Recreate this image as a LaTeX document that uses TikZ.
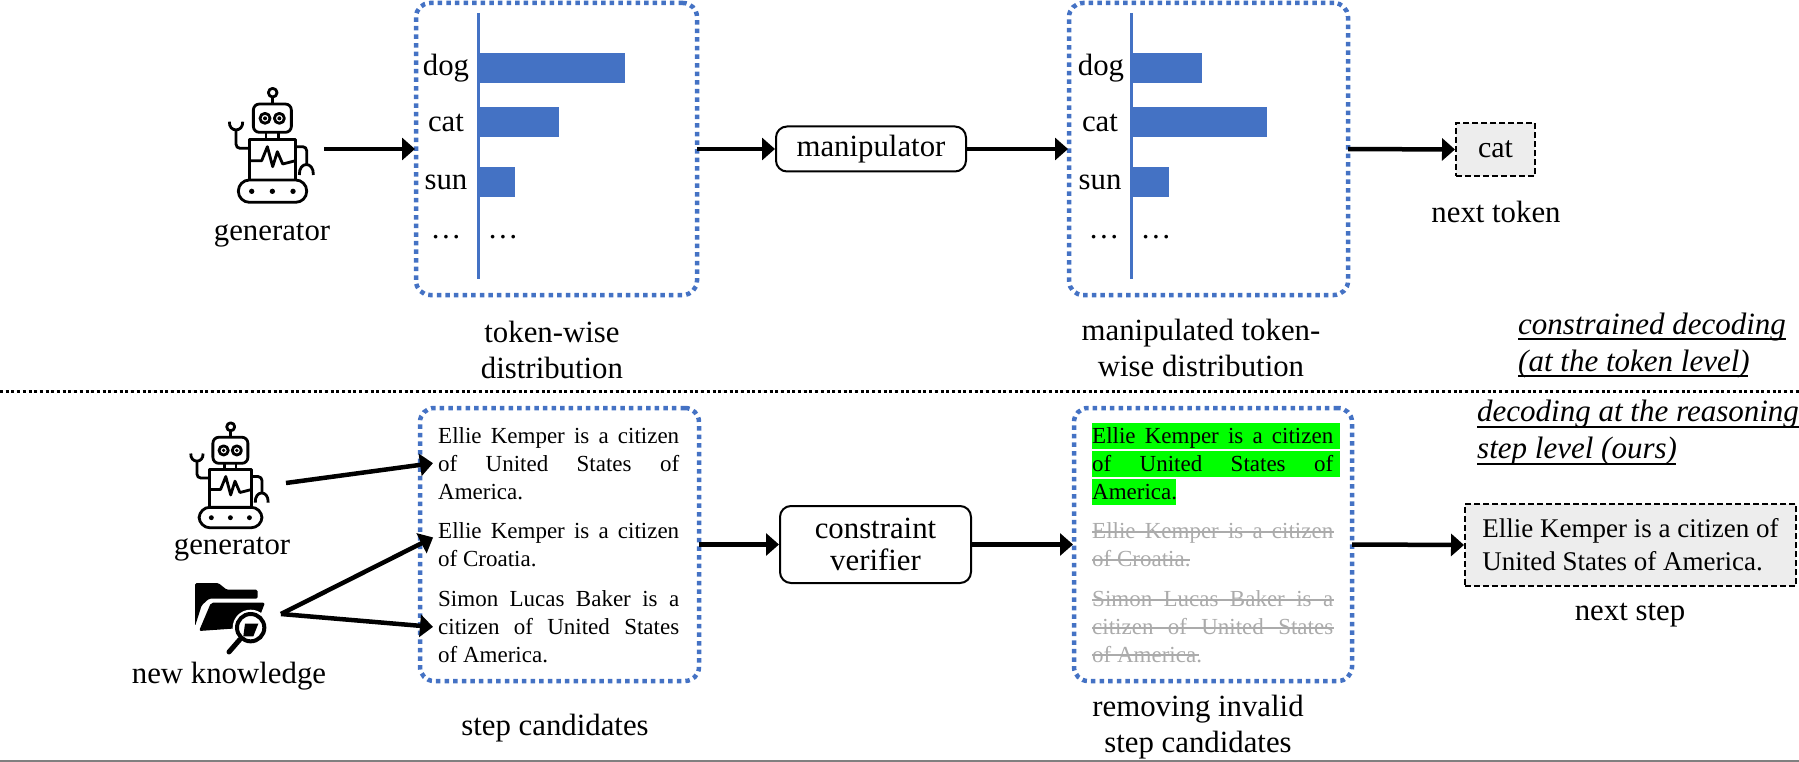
\documentclass[tikz,border=0pt]{standalone}
\usepackage{fontspec}
\setmainfont{Liberation Serif}
\usetikzlibrary{arrows.meta, positioning}
\hbadness=10000
\hfuzz=20pt
\definecolor{barblue}{HTML}{4472C4}
\definecolor{boxgray}{HTML}{EDEDED}
\definecolor{struckgray}{HTML}{ABABAB}
\tikzset{
    robot/.pic={
        \begin{scope}[shift={(-368,-255)},line width=2.8pt,line join=round]
            \draw (368,98) circle [radius=13];
            \draw (368,111) -- (368,132);
            \draw [rounded corners=6pt] (310,132) rectangle (424,217);
            \draw (345,175) circle [radius=15] (388,175) circle [radius=15];
            \fill (345,175) circle [radius=6] (388,175) circle [radius=6];
            \draw (348,217) -- (348,238) (385,217) -- (385,238);
            \draw (298,238) rectangle (437,360);
            \draw [rounded corners=4pt] (298,265) -- (258,265) -- (258,212);
            \draw (238,185) .. controls (236,218) and (280,218) .. (278,185);
            \draw [rounded corners=4pt] (437,260) -- (470,260) -- (470,312);
            \draw (448,345) .. controls (446,303) and (492,303) .. (490,345);
            \draw (298,302) -- (335,302) -- (352,260) -- (368,320) -- (382,275) -- (398,312) -- (437,302);
            \draw [rounded corners=11pt] (265,360) rectangle (470,427);
            \fill (305,394) circle [radius=8] (367,394) circle [radius=8] (429,394) circle [radius=8];
        \end{scope}
    },
    folder/.pic={
        \begin{scope}[shift={(-135,-140)}]
            \fill [rounded corners=1.5pt] (30,38) -- (100,38) -- (125,58) -- (218,58) -- (218,85) -- (72,85) -- (50,105) -- (30,168) -- cycle;
            \fill [rounded corners=2pt] (78,97) -- (240,97) -- (212,170) -- (42,182) -- cycle;
            \fill [white] (197,172) circle [radius=54];
            \draw [line width=4pt] (197,172) circle [radius=41];
            \fill (180,160) -- (220,160) -- (205,198) -- (175,198) -- cycle;
            \draw [line width=5pt,line cap=round] (165,207) -- (132,245);
        \end{scope}
    }
}
\begin{document}
\begin{tikzpicture}[x=1pt,y=-1pt]
    \tikzstyle{label} = [font=\fontsize{30.8}{36}\selectfont,align=center,inner sep=0pt]
    \tikzstyle{token} = [font=\fontsize{30.8}{36}\selectfont,anchor=base,inner sep=0pt]
    \tikzstyle{dotbox} = [rectangle,rounded corners=14pt,draw=barblue,line width=4.5pt,dash pattern=on 4.5pt off 4.1pt,outer sep=0pt]
    \tikzstyle{process} = [rectangle,rounded corners=11pt,draw=black,line width=2pt,fill=white,font=\fontsize{30.8}{32}\selectfont,align=center,inner sep=0pt,outer sep=0pt]
    \tikzstyle{output} = [rectangle,draw=black,line width=2pt,dash pattern=on 6pt off 3pt,fill=boxgray,inner sep=0pt,outer sep=0pt]
    \tikzstyle{candidate} = [anchor=west,text width=241pt,inner xsep=4pt,inner ysep=0pt,align=justify,font=\fontsize{23}{28}\selectfont]
    \tikzstyle{flow} = [-{Triangle[length=13pt,width=22pt]},line width=4.5pt,shorten >=1pt]
    \tikzstyle{axis} = [draw=barblue,line width=3pt]
    \tikzstyle{note} = [font=\fontsize{31}{37}\selectfont\itshape,anchor=west,align=left,inner sep=0pt]
    \tikzstyle{strike} = [draw=struckgray,line width=1.6pt]
    \tikzstyle{rule} = [draw=black,line width=1.6pt]
    \useasboundingbox (0,0) rectangle (1799,762);

    \pic [scale=0.3333] at (272.7,145) {robot};
    \node (generatortop) [label] at (272,235) {generator};
    \coordinate (robotout) at (324,149);

    \node (tokenbox) [dotbox,minimum width=281,minimum height=292] at (556.5,149) {};
    \draw [axis] (478,13) -- (478,279);
    \fill [barblue] (478,53) rectangle (625,83);
    \fill [barblue] (478,107) rectangle (559,137);
    \fill [barblue] (478,167) rectangle (515,197);
    \node (dogleft) [token] at (446,76) {dog};
    \node (catleft) [token] at (446,132) {cat};
    \node (sunleft) [token] at (446,190) {sun};
    \node (moreleft) [token] at (446,238) {…};
    \node (barmoreleft) [token] at (503,238) {…};
    \node (tokenlabel) [label] at (552,349.5) {token-wise\\distribution};

    \node (manipulator) [process,minimum width=190,minimum height=45] at (871,149) {manipulator};

    \node (manipbox) [dotbox,minimum width=279,minimum height=292] at (1208.5,149) {};
    \draw [axis] (1131,13) -- (1131,279);
    \fill [barblue] (1131,53) rectangle (1202,83);
    \fill [barblue] (1131,107) rectangle (1267,137);
    \fill [barblue] (1131,167) rectangle (1169,197);
    \node (dogright) [token] at (1101,76) {dog};
    \node (catright) [token] at (1100,132) {cat};
    \node (sunright) [token] at (1100,190) {sun};
    \node (moreright) [token] at (1104,238) {…};
    \node (barmoreright) [token] at (1156,238) {…};
    \node (maniplabel) [label] at (1201,348) {manipulated token-\\wise distribution\hspace{15pt}};

    \node (nexttoken) [output,minimum width=79,minimum height=53,font=\fontsize{30}{32}\selectfont] at (1495.5,149.5) {cat};
    \node (nexttokenlabel) [label] at (1496,212) {next token};

    \draw [flow] (robotout) -- (tokenbox.west);
    \draw [flow] (tokenbox.east) -- (manipulator.west);
    \draw [flow] (manipulator.east) -- (manipbox.west);
    \draw [flow] (manipbox.east) -- (nexttoken.west);

    \draw [line width=3pt,dash pattern=on 3pt off 2.7pt] (0,391) -- (1799,391);
    \node (tokennote) [note] at (1518,345.5) {constrained decoding\\(at the token level)};
    \draw [rule] (1518,339) -- (1786,339);
    \draw [rule] (1518,376) -- (1748,376);
    \node (stepnote) [note] at (1477,433) {decoding at the reasoning\\step level (ours)};
    \draw [rule] (1477,427) -- (1799,427);
    \draw [rule] (1477,464) -- (1676,464);

    \pic [scale=0.307] at (230.7,475) {robot};
    \node (generatorlow) [label] at (232,549) {generator};
    \coordinate (robotlowout) at (286,483);
    \pic [scale=0.3333] at (230,617) {folder};
    \node (knowledge) [label] at (229,676) {new knowledge};
    \coordinate (knowout) at (281,614);

    \node (stepbox) [dotbox,minimum width=279,minimum height=273] at (559.5,544.5) {};
    \node (candidatea) [candidate] at (434,464) {Ellie Kemper is a citizen\linebreak of United States of\linebreak America.};
    \node (candidateb) [candidate] at (434,545) {Ellie Kemper is a citizen\linebreak of Croatia.};
    \node (candidatec) [candidate] at (434,627) {Simon Lucas Baker is a\linebreak citizen of United States\linebreak of America.};
    \coordinate (knowtarget) at (434,537);
    \coordinate (robottarget) at (434,463);
    \node (steplabel) [label] at (555,728) {step candidates};

    \node (verifier) [process,minimum width=191,minimum height=77] at (875.5,544.5) {constraint\\verifier};

    \node (filterbox) [dotbox,minimum width=278,minimum height=273] at (1213,544.5) {};
    \fill [green] (1092,423) rectangle (1340,449);
    \fill [green] (1092,451) rectangle (1340,477);
    \fill [green] (1092,479) rectangle (1176,505);
    \node (keptstep) [candidate] at (1088,464) {Ellie Kemper is a citizen\linebreak of United States of\linebreak America.};
    \node (droppeda) [candidate,text=struckgray] at (1088,545) {Ellie Kemper is a citizen\linebreak of Croatia.};
    \draw [strike] (1092,532) -- (1334,532);
    \draw [strike] (1092,560) -- (1190,560);
    \node (droppedb) [candidate,text=struckgray] at (1088,627) {Simon Lucas Baker is a\linebreak citizen of United States\linebreak of America.};
    \draw [strike] (1092,600) -- (1334,600);
    \draw [strike] (1092,628) -- (1334,628);
    \draw [strike] (1092,655) -- (1199,655);
    \node (filterlabel) [label] at (1198,727.5) {removing invalid\\step candidates};

    \node (nextstep) [output,minimum width=331,minimum height=82,align=left,font=\fontsize{27}{33}\selectfont] at (1630.5,545) {Ellie Kemper is a citizen of\\United States of America.};
    \node (nextsteplabel) [label] at (1630,615) {next step};

    \draw [flow] (robotlowout) -- (robottarget);
    \draw [flow] (knowout) -- (knowtarget);
    \draw [flow] (knowout) -- (candidatec.west);
    \draw [flow] (stepbox.east) -- (verifier.west);
    \draw [flow] (verifier.east) -- (filterbox.west);
    \draw [flow] (filterbox.east) -- (nextstep.west);

    \draw [gray,line width=2pt] (0,761) -- (1799,761);
\end{tikzpicture}
\end{document}
